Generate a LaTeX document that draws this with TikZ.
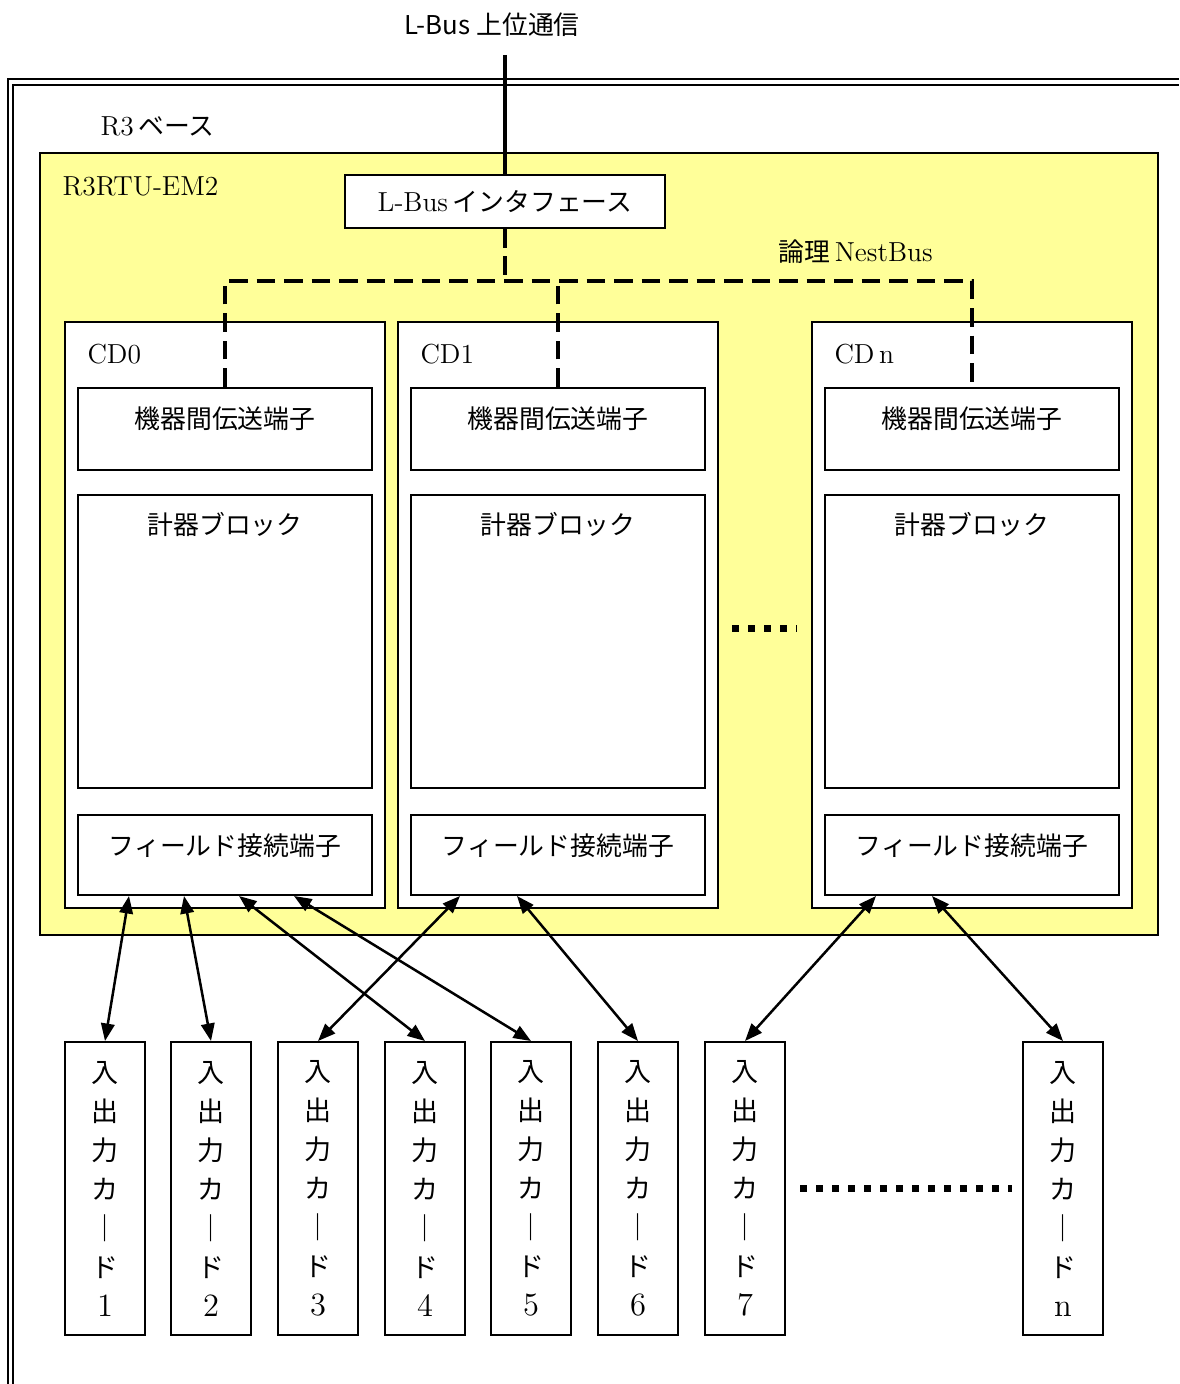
\documentclass[tikz,border=0pt]{standalone}
\usepackage{fontspec}
\newfontfamily\jp{Noto Sans CJK JP}[Scale=0.94]
\usetikzlibrary{arrows.meta,positioning}
\definecolor{rtuyellow}{HTML}{FFFF99}

\tikzset{
  box/.style={draw, line width=0.8pt, fill=white, inner sep=0pt},
  nestbus/.style={line width=1.4pt, dash pattern=on 7.5pt off 3.5pt},
  link/.style={{Triangle[length=7pt,width=5.4pt]}-{Triangle[length=7pt,width=5.4pt]}, line width=1pt},
  dotrow/.style={line width=2.8pt, dash pattern=on 2.8pt off 3.6pt},
}

\begin{document}
\begin{tikzpicture}[x=0.4pt, y=-0.4pt, font=\fontsize{11}{13}\selectfont]
    \useasboundingbox (0,0) rectangle (1179,1384);

    % R3 base (double frame)
    \draw[line width=0.6pt] (8,1384) |- (1179,79);
    \draw[line width=0.8pt] (13,1384) |- (1179,85);
    \node[anchor=west, inner sep=0pt] (base) at (100,126) {R3\,{\jp ベース}};

    \node (upper) at (492,25) {\jp L-Bus 上位通信};
    \coordinate (up) at (505,55);

    \node[box, fill=rtuyellow, line width=0.7pt, minimum width=447.2pt, minimum height=312.8pt] (rtu) at (599,544) {};
    \node[anchor=west, inner sep=0pt] (rtul) at (62,186) {R3RTU-EM2};

    \node[box, minimum width=128pt, minimum height=21.2pt] (lbus) at (505,201.5) {L-Bus\,{\jp インタフェース}};
    \draw[line width=1.4pt] (up) -- (lbus.north);

    \node[anchor=west, inner sep=0pt] (nestl) at (778,252) {{\jp 論理}\,NestBus};

    % card modules
    \foreach \i/\x/\lab in {0/65/CD0, 1/398/CD1, n/812/CD\,n} {
        \node[box, minimum width=128pt, minimum height=234.4pt] (cd\i) at (\x+160,615) {};
        \node[anchor=west, inner sep=0pt] (cd\i-l) at (\x+22,354) {\lab};
        \node[box, minimum width=117.6pt, minimum height=32.8pt] (t\i) at (\x+160,429) {};
        \node (t\i-l) at ([yshift=-12.8pt]t\i.north) {\jp 機器間伝送端子};
        \node[box, minimum width=117.6pt, minimum height=117.2pt] (k\i) at (\x+160,641.5) {};
        \node (k\i-l) at ([yshift=-12pt]k\i.north) {\jp 計器ブロック};
        \node[box, minimum width=117.6pt, minimum height=32pt] (f\i) at (\x+160,855) {};
        \node (f\i-l) at ([yshift=-12.8pt]f\i.north) {\jp フィールド接続端子};
    }

    % logical NestBus
    \coordinate (bus) at (505,281);
    \draw[nestbus] (lbus.south) -- (bus);
    \draw[nestbus] (t0.north) |- (tn.north |- bus) -- (tn.north);
    \draw[nestbus] (t1.north) -- (t1.north |- bus);

    \draw[dotrow] (732,628) -- (797,628);

    % I/O cards
    \foreach \k/\x in {1/105, 2/211, 3/318, 4/425, 5/531, 6/638, 7/745, n/1063} {
        \node[box, minimum width=32pt, minimum height=117.2pt, align=center,
              font=\fontsize{11.5}{15.6}\selectfont\jp] (card\k) at (\x,1188.5)
              {入\\出\\力\\カ\\｜\\ド\\{\rmfamily\fontsize{13}{15.6}\selectfont\k}};
    }

    \draw[dotrow] (800,1188) -- (1012,1188);

    \draw[link] ([xshift=20.8pt]f0.south west) -- (card1.north);
    \draw[link] ([xshift=42.8pt]f0.south west) -- (card2.north);
    \draw[link] ([xshift=64.8pt]f0.south west) -- (card4.north);
    \draw[link] ([xshift=86.8pt]f0.south west) -- (card5.north);
    \draw[link] ([xshift=20pt]f1.south west) -- (card3.north);
    \draw[link] ([xshift=42.8pt]f1.south west) -- (card6.north);
    \draw[link] ([xshift=20.8pt]fn.south west) -- (card7.north);
    \draw[link] ([xshift=43.2pt]fn.south west) -- (cardn.north);

\end{tikzpicture}
\end{document}
